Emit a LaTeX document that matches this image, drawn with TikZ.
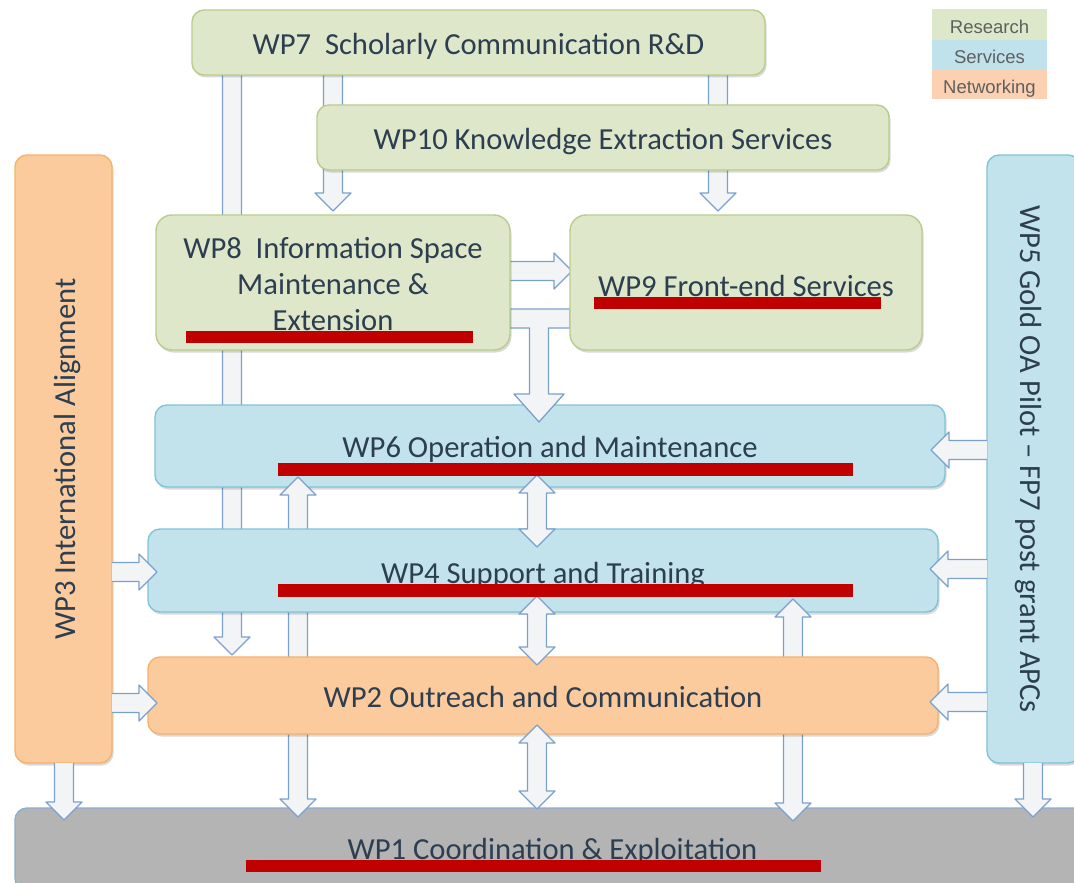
\documentclass[tikz,border=0pt]{standalone}
\usepackage{fontspec}
\setmainfont{Carlito}
\newfontfamily\legfont{Liberation Sans}
\usetikzlibrary{calc,shadows}
\definecolor{resfill}{RGB}{222,231,202}
\definecolor{resline}{RGB}{184,205,140}
\definecolor{serfill}{RGB}{194,227,236}
\definecolor{serline}{RGB}{128,196,216}
\definecolor{netfill}{RGB}{251,203,157}
\definecolor{netline}{RGB}{246,178,108}
\definecolor{coofill}{RGB}{180,180,180}
\definecolor{cooline}{RGB}{140,172,208}
\definecolor{arrfill}{RGB}{243,244,246}
\definecolor{arrline}{RGB}{122,160,206}
\definecolor{txt}{RGB}{44,62,80}
\definecolor{redbar}{RGB}{192,0,0}
\definecolor{legres}{RGB}{221,232,203}
\definecolor{legser}{RGB}{192,226,236}
\definecolor{legnet}{RGB}{251,209,178}
\definecolor{leggray}{RGB}{95,95,95}
\pgfdeclarelayer{L0}
\pgfdeclarelayer{LA}\pgfdeclarelayer{LB}\pgfdeclarelayer{LC}\pgfdeclarelayer{LD}
\pgfdeclarelayer{LE}\pgfdeclarelayer{LF}\pgfdeclarelayer{LG}\pgfdeclarelayer{LH}
\pgfsetlayers{L0,LA,LB,LC,LD,LE,LF,LG,main,LH}
\def\as{9.5pt}\def\ah{18pt}\def\al{18pt}
% single arrow pointing down: #1 start (top), #2 tip
\newcommand\arrD[2]{%
 \fill[arrfill] let \p1=(#1),\p2=(#2) in (\x1-\as,\y1) -- (\x1-\as,\y2+\al) -- (\x1-\ah,\y2+\al) -- (\x1,\y2) -- (\x1+\ah,\y2+\al) -- (\x1+\as,\y2+\al) -- (\x1+\as,\y1) -- cycle;
 \draw[arrstroke] let \p1=(#1),\p2=(#2) in (\x1-\as,\y1) -- (\x1-\as,\y2+\al) -- (\x1-\ah,\y2+\al) -- (\x1,\y2) -- (\x1+\ah,\y2+\al) -- (\x1+\as,\y2+\al) -- (\x1+\as,\y1);}
% double vertical arrow: #1 top tip, #2 bottom tip
\newcommand\arrV[2]{%
 \filldraw[arrstroke,fill=arrfill] let \p1=(#1),\p2=(#2) in (\x1,\y1) -- (\x1+\ah,\y1-\al) -- (\x1+\as,\y1-\al) -- (\x1+\as,\y2+\al) -- (\x1+\ah,\y2+\al) -- (\x1,\y2) -- (\x1-\ah,\y2+\al) -- (\x1-\as,\y2+\al) -- (\x1-\as,\y1-\al) -- (\x1-\ah,\y1-\al) -- cycle;}
% single arrow pointing right: #1 start, #2 tip
\newcommand\arrR[2]{%
 \fill[arrfill] let \p1=(#1),\p2=(#2) in (\x1,\y1+\as) -- (\x2-\al,\y1+\as) -- (\x2-\al,\y1+\ah) -- (\x2,\y1) -- (\x2-\al,\y1-\ah) -- (\x2-\al,\y1-\as) -- (\x1,\y1-\as) -- cycle;
 \draw[arrstroke] let \p1=(#1),\p2=(#2) in (\x1,\y1+\as) -- (\x2-\al,\y1+\as) -- (\x2-\al,\y1+\ah) -- (\x2,\y1) -- (\x2-\al,\y1-\ah) -- (\x2-\al,\y1-\as) -- (\x1,\y1-\as);}
% single arrow pointing left: #1 start, #2 tip
\newcommand\arrL[2]{%
 \fill[arrfill] let \p1=(#1),\p2=(#2) in (\x1,\y1+\as) -- (\x2+\al,\y1+\as) -- (\x2+\al,\y1+\ah) -- (\x2,\y1) -- (\x2+\al,\y1-\ah) -- (\x2+\al,\y1-\as) -- (\x1,\y1-\as) -- cycle;
 \draw[arrstroke] let \p1=(#1),\p2=(#2) in (\x1,\y1+\as) -- (\x2+\al,\y1+\as) -- (\x2+\al,\y1+\ah) -- (\x2,\y1) -- (\x2+\al,\y1-\ah) -- (\x2+\al,\y1-\as) -- (\x1,\y1-\as);}
\begin{document}
\begin{tikzpicture}[x=1pt,y=-1pt,
 box/.style={rounded corners=12pt, line width=1.4pt, text=txt, font=\fontsize{30.6}{36}\selectfont, align=center, inner sep=0pt, outer sep=0pt, drop shadow={shadow xshift=1.5pt, shadow yshift=-2.5pt, opacity=0.15, fill=black}},
 res/.style={box, fill=resfill, draw=resline},
 ser/.style={box, fill=serfill, draw=serline},
 net/.style={box, fill=netfill, draw=netline},
 coo/.style={box, fill=coofill, draw=cooline},
 arrstroke/.style={draw=arrline, line width=1.3pt, line join=round},
 leg/.style={inner sep=0pt, outer sep=0pt, minimum width=115pt, text=leggray, text height=18.5pt, text depth=0pt, font=\legfont\fontsize{18.5}{18.5}\selectfont}]
\useasboundingbox (0,0) rectangle (1074,883);
\clip (0,0) rectangle (1074,883);
\begin{pgfonlayer}{L0}
\fill[white] (0,0) rectangle (1074,883);
\end{pgfonlayer}
% columns and rows
\coordinate (cA) at (232,0);
\coordinate (cB) at (333,0);
\coordinate (cC) at (718,0);
\coordinate (cD) at (298,0);
\coordinate (cE) at (793,0);
\coordinate (cM) at (537,0);
\coordinate (cT) at (539,0);
\coordinate (cL) at (64,0);
\coordinate (cR) at (1033,0);
\coordinate (r89) at (0,271);
\coordinate (tTop) at (0,309);
\coordinate (tBot) at (0,328);
\coordinate (rL4) at (0,572);
\coordinate (rL2) at (0,703);
\coordinate (rR6) at (0,450);
\coordinate (rR4) at (0,569);
\coordinate (rR2) at (0,702);
% boxes
\begin{pgfonlayer}{LA}
\node[coo, minimum width=1075pt, minimum height=82pt, text height=20.7pt, text depth=0pt] (wp1) at (552.5,849) {WP1 Coordination \& Exploitation};
\end{pgfonlayer}
\begin{pgfonlayer}{LC}
\node[ser, minimum width=790pt, minimum height=82pt, text height=23.7pt, text depth=0pt] (wp6) at (550,446) {WP6 Operation and Maintenance};
\end{pgfonlayer}
\begin{pgfonlayer}{LE}
\node[res, minimum width=573pt, minimum height=65pt, text height=23.7pt, text depth=0pt] (wp7) at (478.5,42.5) {WP7\ \ Scholarly Communication R\&D};
\node[res, minimum width=572pt, minimum height=65pt, text height=24.7pt, text depth=0pt] (wp10) at (603,137.5) {WP10 Knowledge Extraction Services};
\node[res, rounded corners=16pt, minimum width=354pt, minimum height=135pt] (wp8) at (333,282.5) {};
\node[text=txt, font=\fontsize{30.6}{36}\selectfont, align=center, inner sep=0pt] (wp8t) at (333,284.5) {WP8\ \ Information Space\\Maintenance \&\\Extension};
\node[res, rounded corners=16pt, minimum width=352pt, minimum height=135pt, text height=27.7pt, text depth=0pt] (wp9) at (746,282.5) {WP9 Front-end Services};
\node[ser, minimum width=790pt, minimum height=83pt, text height=26.7pt, text depth=0pt] (wp4) at (543,570.5) {WP4 Support and Training};
\end{pgfonlayer}
\begin{pgfonlayer}{LG}
\node[net, minimum width=790pt, minimum height=77pt, text height=23.7pt, text depth=0pt] (wp2) at (543,695.5) {WP2 Outreach and Communication};
\node[net, rotate=90, minimum width=608pt, minimum height=97pt, text height=23.7pt, text depth=0pt] (wp3) at (63.5,459) {WP3 International Alignment};
\node[ser, rotate=-90, minimum width=608pt, minimum height=93pt, text height=25.7pt, text depth=0pt] (wp5) at (1033.5,459) {WP5 Gold OA Pilot – FP7 post grant APCs};
\end{pgfonlayer}
% arrows behind boxes
\begin{pgfonlayer}{LB}
\arrD{wp7.south -| cA}{$(wp2.north -| cA)+(0,-2)$}
\arrD{wp7.south -| cB}{$(wp8.north -| cB)+(0,-4)$}
\arrD{wp7.south -| cC}{$(wp9.north -| cC)+(0,-4)$}
\end{pgfonlayer}
\begin{pgfonlayer}{LD}
\arrV{$(wp6.south -| cD)+(0,-10)$}{$(wp1.north -| cD)+(0,9)$}
\filldraw[arrstroke, fill=arrfill] let \p1=(wp8.east |- tTop), \p2=(wp9.west |- tBot), \p3=($(wp6.north -| cT)+(0,17)$) in
 (\x1,\y1) -- (\x2,\y1) -- (\x2,\y2) -- (\x3+9.5pt,\y2) -- (\x3+9.5pt,\y3+28pt) -- (\x3+25pt,\y3+28pt) -- (\x3,\y3) -- (\x3-25pt,\y3+28pt) -- (\x3-9.5pt,\y3+28pt) -- (\x3-9.5pt,\y2) -- (\x1,\y2) -- cycle;
\arrR{wp8.east |- r89}{$(wp9.west |- r89)+(2,0)$}
\end{pgfonlayer}
\begin{pgfonlayer}{LF}
\arrV{$(wp4.south -| cE)+(0,-13)$}{$(wp1.north -| cE)+(0,13)$}
\end{pgfonlayer}
% arrows in front
\arrV{$(wp6.south -| cM)+(0,-12)$}{$(wp4.north -| cM)+(0,18)$}
\arrV{$(wp4.south -| cM)+(0,-16)$}{$(wp2.north -| cM)+(0,8)$}
\arrV{$(wp2.south -| cM)+(0,-9)$}{$(wp1.north -| cM)+(0,1)$}
\arrR{wp3.south |- rL4}{$(wp4.west |- rL4)+(9,0)$}
\arrR{wp3.south |- rL2}{$(wp2.west |- rL2)+(9,0)$}
\arrD{wp3.west -| cL}{$(wp1.north -| cL)+(0,12)$}
\arrL{wp5.south |- rR6}{$(wp6.east |- rR6)+(-14,0)$}
\arrL{wp5.south |- rR4}{$(wp4.east |- rR4)+(-8,0)$}
\arrL{wp5.south |- rR2}{$(wp2.east |- rR2)+(-8,0)$}
\arrD{wp5.east -| cR}{$(wp1.north -| cR)+(0,9)$}
% overlay bars and legend
\begin{pgfonlayer}{LH}
\fill[redbar] (186,331) rectangle (473,343);
\fill[redbar] (594,297) rectangle (881,309);
\fill[redbar] (278,463) rectangle (853,476);
\fill[redbar] (278,584) rectangle (853,597);
\fill[redbar] (246,860) rectangle (821,872);
\node[leg, fill=legres, minimum height=31pt] (lgr) at (989.5,24.5) {Research};
\node[leg, fill=legser, minimum height=29pt] (lgs) at (989.5,54.5) {Services};
\node[leg, fill=legnet, minimum height=30pt] (lgn) at (989.5,84) {Networking};
\end{pgfonlayer}
\end{tikzpicture}
\end{document}
